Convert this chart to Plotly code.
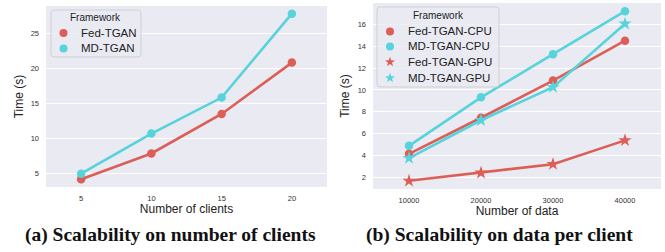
import plotly.graph_objects as go

# ---- data ----
clients = [5, 10, 15, 20]
fed_clients = [4.1, 7.8, 13.45, 20.8]
md_clients = [4.9, 10.65, 15.8, 27.8]

data_sizes = [10000, 20000, 30000, 40000]
fed_cpu = [4.15, 7.45, 10.85, 14.5]
md_cpu = [4.88, 9.32, 13.27, 17.2]
fed_gpu = [1.68, 2.42, 3.2, 5.38]
md_gpu = [3.76, 7.22, 10.25, 16.05]

left_yticks = [5, 10, 15, 20, 25]
right_yticks = [2, 4, 6, 8, 10, 12, 14, 16]

left_names = ["Fed-TGAN", "MD-TGAN"]
right_names = ["Fed-TGAN-CPU", "MD-TGAN-CPU", "Fed-TGAN-GPU", "MD-TGAN-GPU"]

RED = "#db5f57"
CYAN = "#57d3db"
BG = "#eaeaf2"
FONT = "Liberation Sans, Arial, sans-serif"

W, H = 665, 252
def px_x(a, b):
    return [a / W, b / W]
def px_y(top, bottom):
    return [1 - bottom / H, 1 - top / H]

fig = go.Figure()

def add_series(x, y, name, color, symbol, size, xa, ya):
    fig.add_trace(go.Scatter(
        x=x, y=y, mode="lines+markers", name=name, showlegend=False,
        line=dict(color=color, width=2.6),
        marker=dict(color=color, size=size, symbol=symbol),
        xaxis=xa, yaxis=ya))

add_series(clients, fed_clients, left_names[0], RED, "circle", 8.5, "x", "y")
add_series(clients, md_clients, left_names[1], CYAN, "circle", 8.5, "x", "y")
add_series(data_sizes, fed_cpu, right_names[0], RED, "circle", 8.5, "x2", "y2")
add_series(data_sizes, md_cpu, right_names[1], CYAN, "circle", 8.5, "x2", "y2")
add_series(data_sizes, fed_gpu, right_names[2], RED, "star", 10, "x2", "y2")
add_series(data_sizes, md_gpu, right_names[3], CYAN, "star", 10, "x2", "y2")

tickfont = dict(family=FONT, size=7.5, color="#333333")
titlefont = dict(family=FONT, size=12, color="#222222")

common_x = dict(showgrid=False, zeroline=False, showline=False, ticks="",
                tickfont=tickfont, title_font=titlefont, ticklabelstandoff=5,
                automargin=False)
common_y = dict(showgrid=True, gridcolor="white", gridwidth=1, zeroline=False,
                showline=False, ticks="", tickfont=tickfont, title_font=titlefont,
                ticklabelstandoff=6, automargin=False)

fig.update_layout(
    width=W, height=H, margin=dict(l=0, r=0, t=0, b=0, autoexpand=False),
    paper_bgcolor="white", plot_bgcolor=BG, showlegend=False,
    xaxis=dict(domain=px_x(46, 327), range=[2.5, 22.5], tickvals=clients,
               ticktext=[str(c) for c in clients],
               title=dict(text="Number of clients", standoff=2), anchor="y", **common_x),
    yaxis=dict(domain=px_y(6, 187), range=[3.0, 28.9], tickvals=left_yticks,
               title=dict(text="Time (s)", standoff=4), anchor="x", **common_y),
    xaxis2=dict(domain=px_x(373, 661), range=[5000, 45000], tickvals=data_sizes,
                ticktext=[str(d) for d in data_sizes],
                title=dict(text="Number of data", standoff=2), anchor="y2", **common_x),
    yaxis2=dict(domain=px_y(3, 189), range=[0.93, 17.95], tickvals=right_yticks,
                title=dict(text="Time (s)", standoff=5), anchor="x2", **common_y),
)

# ---- legends (drawn as box + symbols + text, seaborn style) ----
def rounded_box(x0, y0, x1, y1, r=3):
    def P(x, y):
        return f"{x / W:.5f},{1 - y / H:.5f}"
    return (f"M{P(x0 + r, y0)} L{P(x1 - r, y0)} Q{P(x1, y0)} {P(x1, y0 + r)} "
            f"L{P(x1, y1 - r)} Q{P(x1, y1)} {P(x1 - r, y1)} L{P(x0 + r, y1)} "
            f"Q{P(x0, y1)} {P(x0, y1 - r)} L{P(x0, y0 + r)} Q{P(x0, y0)} {P(x0 + r, y0)} Z")

def star_path(n=5, R=5.2, r=2.1):
    import math
    pts = []
    for i in range(2 * n):
        ang = math.pi / 2 + i * math.pi / n
        rad = R if i % 2 == 0 else r
        pts.append((rad * math.cos(ang), rad * math.sin(ang)))
    return "M" + " L".join(f"{x:.2f},{y:.2f}" for x, y in pts) + " Z"

def legend(box, title_xy, entries):
    x0, y0, x1, y1 = box
    fig.add_shape(type="path", xref="paper", yref="paper", path=rounded_box(x0, y0, x1, y1),
                  fillcolor="rgba(234,234,242,0.8)", line=dict(color="#cfcfd6", width=1),
                  layer="above")
    fig.add_annotation(text="Framework", xref="paper", yref="paper",
                       x=title_xy[0] / W, y=1 - title_xy[1] / H, showarrow=False,
                       font=dict(family=FONT, size=10, color="#222222"),
                       xanchor="center", yanchor="middle")
    for name, color, sym, mx, ty, tx in entries:
        ax, ay = mx / W, 1 - ty / H
        if sym == "circle":
            fig.add_shape(type="circle", xref="paper", yref="paper",
                          xsizemode="pixel", ysizemode="pixel", xanchor=ax, yanchor=ay,
                          x0=-4, x1=4, y0=-4, y1=4, fillcolor=color,
                          line=dict(width=0), layer="above")
        else:
            fig.add_shape(type="path", xref="paper", yref="paper",
                          xsizemode="pixel", ysizemode="pixel", xanchor=ax, yanchor=ay,
                          path=star_path(), fillcolor=color,
                          line=dict(width=0), layer="above")
        fig.add_annotation(text=name, xref="paper", yref="paper",
                           x=tx / W, y=1 - (ty - 0.5) / H, showarrow=False,
                           font=dict(family=FONT, size=11.5, color="#222222"),
                           xanchor="left", yanchor="middle")

legend((51, 10, 141, 57), (95, 17.5), [
    (left_names[0], RED, "circle", 63.5, 33, 79),
    (left_names[1], CYAN, "circle", 63.5, 48.5, 79),
])
legend((377, 7, 499, 87), (438, 15), [
    (right_names[0], RED, "circle", 390, 31.5, 406.5),
    (right_names[1], CYAN, "circle", 390, 46.5, 406.5),
    (right_names[2], RED, "star", 390, 62, 406.5),
    (right_names[3], CYAN, "star", 390, 78, 406.5),
])

cap_font = dict(family="Liberation Serif, DejaVu Serif, serif", size=19.5, color="#111111")
fig.add_annotation(text="<b>(a) Scalability on number of clients</b>", xref="paper", yref="paper",
                   x=170 / W, y=1 - 235 / H, showarrow=False, font=cap_font,
                   xanchor="center", yanchor="middle")
fig.add_annotation(text="<b>(b) Scalability on data per client</b>", xref="paper", yref="paper",
                   x=499 / W, y=1 - 235 / H, showarrow=False, font=cap_font,
                   xanchor="center", yanchor="middle")

fig.write_html("out.html", config={"displayModeBar": False},
               post_script="document.body.style.margin='0';document.body.style.overflow='hidden';")
